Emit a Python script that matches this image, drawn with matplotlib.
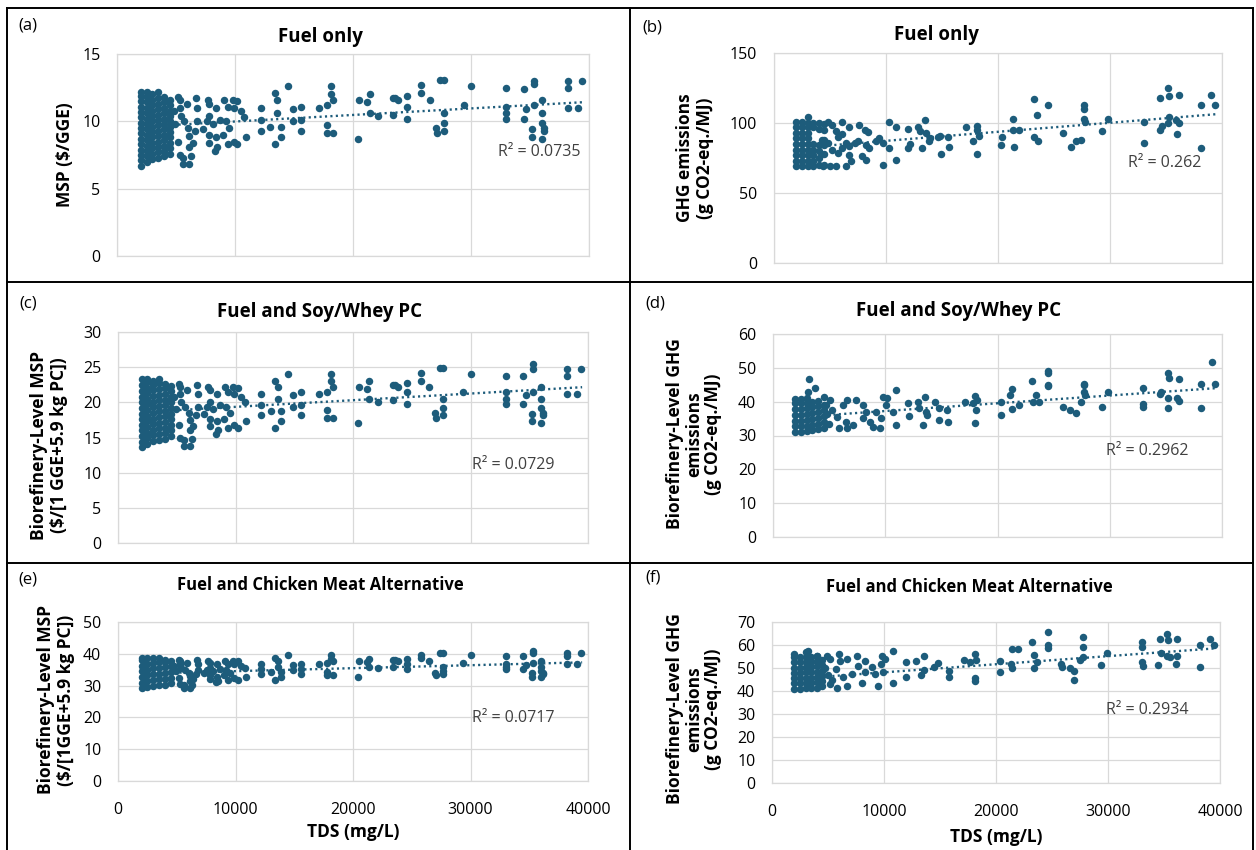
import matplotlib.pyplot as plt
from matplotlib.lines import Line2D

plt.rcParams["font.family"] = ["Open Sans", "DejaVu Sans"]

# ---- values (TDS in mg/L) ----
# dense block of samples at low TDS: one list of values per TDS column
cluster_tds = [2000, 2500, 3000, 3500, 4000, 4500]

a_cluster = [
    [6.7, 7.1, 7.5, 7.9, 8.3, 8.7, 9.1, 9.5, 9.9, 10.3, 10.7, 11.1, 11.5, 11.9, 12.2],
    [7.0, 7.4, 7.8, 8.2, 8.6, 9.0, 9.4, 9.8, 10.2, 10.6, 11.0, 11.4, 11.8, 12.2],
    [7.2, 7.6, 8.0, 8.4, 8.8, 9.2, 9.6, 10.0, 10.4, 10.8, 11.2, 11.6, 12.0],
    [7.3, 7.7, 8.1, 8.5, 8.9, 9.3, 9.7, 10.1, 10.5, 10.9, 11.3, 11.7, 12.2],
    [7.4, 7.8, 8.2, 8.6, 9.0, 9.4, 9.8, 10.2, 10.6, 11.0, 11.4, 11.8],
    [7.6, 8.0, 8.4, 8.8, 9.2, 9.6, 10.0, 10.4, 10.8, 11.2, 11.6],
]
c_cluster = [
    [13.6, 14.4, 15.2, 16.0, 16.8, 17.6, 18.4, 19.2, 20.0, 20.8, 21.6, 22.4, 23.3],
    [14.1, 14.9, 15.7, 16.5, 17.3, 18.1, 18.9, 19.7, 20.5, 21.3, 22.1, 22.9, 23.3],
    [14.5, 15.3, 16.1, 16.9, 17.7, 18.5, 19.3, 20.1, 20.9, 21.7, 22.5, 23.1],
    [14.7, 15.5, 16.3, 17.1, 17.9, 18.7, 19.5, 20.3, 21.1, 21.9, 22.7, 23.3],
    [14.8, 15.6, 16.4, 17.2, 18.0, 18.8, 19.6, 20.4, 21.2, 22.0, 22.6],
    [15.2, 16.0, 16.8, 17.6, 18.4, 19.2, 20.0, 20.8, 21.6, 22.3],
]
e_cluster = [
    [29.1, 30.9, 32.7, 34.5, 36.3, 38.1, 38.8],
    [29.6, 31.4, 33.2, 35.0, 36.8, 38.8],
    [30.0, 31.8, 33.6, 35.4, 37.2, 38.6],
    [30.2, 32.0, 33.8, 35.6, 37.4, 38.8],
    [30.3, 32.1, 33.9, 35.7, 37.5, 38.1],
    [30.7, 32.5, 34.3, 36.1, 37.8],
]
b_cluster = [
    [69, 73, 77, 81, 85, 89, 93, 97, 101],
    [69, 73, 77, 81, 85, 89, 93, 97, 101],
    [69, 73, 77, 81, 85, 89, 93, 97, 100, 104],
    [69, 73, 77, 81, 85, 97, 100],
    [70, 75, 80, 84, 96, 100],
    [70, 78, 84, 88, 95, 99],
]
d_cluster = [
    [31.0, 32.7, 34.4, 36.1, 37.8, 39.5, 40.8],
    [31.0, 32.7, 34.4, 36.1, 37.8, 39.5, 40.8],
    [31.2, 32.9, 34.6, 36.3, 38.0, 39.7, 41.0],
    [31.5, 33.2, 34.9, 36.6, 38.3, 40.0],
    [31.8, 33.5, 35.2, 36.9, 38.6, 40.3],
    [32.3, 34.0, 35.7, 37.4, 39.1],
]
f_cluster = [
    [41.0, 43.3, 45.6, 47.9, 50.2, 52.5, 54.8, 56.0],
    [41.0, 43.3, 45.6, 47.9, 50.2, 52.5, 54.8],
    [41.2, 43.5, 45.8, 48.1, 50.4, 52.7, 55.0, 57.0],
    [41.2, 43.5, 45.8, 48.1, 50.4, 52.7, 55.0],
    [41.5, 43.8, 46.1, 48.4, 50.7, 53.0, 55.3],
    [42.0, 44.3, 46.6, 48.9, 51.2, 53.5],
]

# remaining samples, left column (same samples in a, c, e)
msp_tds = [5300, 5300, 5400, 5700, 5900, 6000, 6100, 6100, 6300, 5600, 6100, 5600, 6700, 6800, 6800, 6600,
           6400, 5200, 5300, 4900, 4800, 5200,
           7700, 7800, 8400, 7800, 7600, 8100, 8700, 9100, 9400, 9800, 10200, 9900, 10500, 9500, 9000, 8400,
           7800, 8500, 8300, 9400, 9900, 10200, 10900, 7800, 7300, 9200, 10800,
           12200, 12200, 12200, 13000, 13400, 13600, 13600, 13400, 13900, 13900, 14500, 14900, 14900, 15600,
           15600, 15600, 17100, 17800, 17800, 17800, 18100, 18100, 18300, 18300, 20400, 20500, 21200, 21400,
           21400, 22100, 23400, 23400, 23600, 23800, 24600, 24600, 24600, 25800, 25800, 26500, 27000, 27100,
           27400, 27700, 27700, 27700, 27700, 29400, 30000, 33000, 33000, 33000, 33000, 34500, 34500, 34700,
           35300, 35300, 35300, 35200, 35200, 36000, 36000, 36000, 36200, 36200, 36000, 38200, 38200, 38200,
           39100, 39400]
a_msp = [11.6, 11.0, 10.4, 10.0, 11.3, 9.5, 8.9, 8.1, 7.4, 6.8, 6.8, 7.3, 11.7, 11.0, 10.0, 9.3,
         8.4, 8.5, 7.5, 9.8, 10.8, 11.8,
         11.6, 11.3, 11.0, 10.4, 10.0, 9.8, 10.1, 11.6, 11.1, 11.6, 11.5, 11.0, 10.8, 9.5, 9.0, 8.8,
         8.4, 8.1, 7.8, 8.3, 8.5, 8.3, 8.8, 9.0, 9.4, 10.0, 10.3,
         11.0, 10.1, 9.3, 9.6, 12.1, 11.6, 10.6, 8.3, 9.6, 8.8, 12.6, 10.9, 10.0, 11.1,
         10.1, 9.3, 11.0, 11.2, 9.7, 9.1, 12.6, 12.0, 11.6, 9.1, 8.7, 11.6, 11.4, 12.0,
         10.6, 10.4, 11.7, 10.5, 11.7, 11.6, 11.9, 11.1, 10.2, 12.7, 12.1, 11.6, 9.5, 9.1,
         13.1, 13.1, 10.6, 9.9, 9.3, 11.2, 12.6, 12.5, 11.1, 10.6, 10.2, 12.4, 10.2, 10.9,
         13.0, 12.8, 11.2, 9.4, 8.8, 11.6, 10.6, 9.9, 9.5, 9.3, 8.7, 13.0, 12.5, 11.0,
         11.0, 13.0]
c_msp = [22.2, 21.2, 20.1, 19.4, 21.7, 18.5, 17.5, 16.1, 14.8, 13.8, 13.8, 14.7, 22.4, 21.2, 19.4, 18.2,
         16.6, 16.8, 15.0, 19.1, 20.8, 22.6,
         22.2, 21.7, 21.2, 20.1, 19.4, 19.1, 19.6, 22.2, 21.4, 22.2, 22.1, 21.2, 20.8, 18.5, 17.7, 17.3,
         16.6, 16.1, 15.5, 16.4, 16.8, 16.4, 17.3, 17.7, 18.4, 19.4, 20.0,
         21.2, 19.6, 18.2, 18.7, 23.1, 22.2, 20.5, 16.4, 18.7, 17.3, 24.0, 21.0, 19.4, 21.4,
         19.6, 18.2, 21.2, 21.5, 18.9, 17.8, 24.0, 23.0, 22.2, 17.8, 17.1, 22.2, 21.9, 23.0,
         20.5, 20.1, 22.4, 20.3, 22.4, 22.2, 22.8, 21.4, 19.8, 24.2, 23.1, 22.2, 18.5, 17.8,
         24.9, 24.9, 20.5, 19.2, 18.2, 21.5, 24.0, 23.8, 21.4, 20.5, 19.8, 23.7, 19.8, 21.0,
         25.5, 24.8, 21.5, 18.4, 17.3, 22.2, 20.5, 19.2, 18.5, 18.2, 17.1, 24.7, 23.8, 21.2,
         21.2, 24.7]
e_msp = [37.7, 36.7, 35.6, 34.9, 37.2, 34.0, 33.0, 31.6, 30.3, 29.3, 29.3, 30.2, 37.9, 36.7, 34.9, 33.7,
         32.1, 32.3, 30.5, 34.6, 36.3, 38.1,
         37.7, 37.2, 36.7, 35.6, 34.9, 34.6, 35.1, 37.7, 36.9, 37.7, 37.6, 36.7, 36.3, 34.0, 33.2, 32.8,
         32.1, 31.6, 31.0, 31.9, 32.3, 31.9, 32.8, 33.2, 33.9, 34.9, 35.5,
         36.7, 35.1, 33.7, 34.2, 38.6, 37.7, 36.0, 31.9, 34.2, 32.8, 39.5, 36.5, 34.9, 36.9,
         35.1, 33.7, 36.7, 37.0, 34.4, 33.3, 39.5, 38.5, 37.7, 33.3, 32.6, 37.7, 37.4, 38.5,
         36.0, 35.6, 37.9, 35.8, 37.9, 37.7, 38.3, 36.9, 35.3, 39.7, 38.6, 37.7, 34.0, 33.3,
         40.4, 40.4, 36.0, 34.7, 33.7, 37.0, 39.5, 39.3, 36.9, 36.0, 35.3, 39.2, 35.3, 36.5,
         41.0, 40.3, 37.0, 33.9, 32.8, 37.7, 36.0, 34.7, 34.0, 33.7, 32.6, 40.2, 39.3, 36.7,
         36.7, 40.2]

# remaining samples, right column
b_tds = [5200, 6100, 6700, 7600, 8100, 8400, 4300, 4800, 5200, 5700, 6100, 6400, 6700, 6900, 8200, 8500,
         7900, 8200, 9100, 9400, 9700, 10300, 9700, 10900, 10300, 10900, 6100, 5700, 7200, 7500, 6700,
         4400, 5000, 5500, 6400, 4800, 5500,
         12000, 12000, 12100, 12900, 13000, 13200, 13500, 13600, 13800, 13900, 14600, 14900, 14800, 15500,
         15600, 17100, 17800, 18100, 18100, 18300, 18100, 20300, 20400, 21300, 21300, 21400, 21900, 23200,
         23500, 23200, 23600, 24500, 25800, 26500, 27000, 27400, 27700, 27700, 27700, 27800, 29300, 29800,
         33000, 33000, 34500, 34500, 34600, 35200, 35300, 35300, 35200, 35900, 36200, 36200, 36000, 38100,
         38100, 39000, 39400]
b_ghg = [98.7, 101, 97.4, 98.7, 94.8, 93.6, 88.1, 85.7, 80.9, 78.6, 82.1, 85.7, 77.4, 72.6, 84.5, 82.1,
         76.2, 73.8, 86.9, 89.3, 85.7, 82.1, 70.2, 73.8, 101, 97.4, 92.1, 89.8, 85.7, 86.9, 83.3,
         69.6, 69.6, 69.6, 69.6, 101, 94,
         96, 82, 85, 97, 94, 82, 102, 93, 87, 89, 90, 78, 91, 90,
         83, 97, 87, 98, 95, 91, 78, 84, 90, 95, 103, 83, 95, 117,
         106, 90, 87, 113, 93, 83, 87, 88, 113, 110, 103, 101, 94, 103,
         101, 86, 118, 95, 98, 125, 119, 104, 100, 102, 120, 100, 92, 113,
         82, 120, 113]

d_tds = [3200, 3100, 3700, 4500, 5100, 5300, 5700, 6200, 6500, 5900, 6600, 7100, 6600, 7400, 8000, 8300,
         8000, 8600, 8900, 9500, 9600, 9200, 9800, 10200, 10100, 10700, 11000, 11000, 4800, 5000, 4700,
         12000, 12100, 12900, 13000, 13400, 13500, 13600, 13700, 14400, 14800, 14800, 15500, 15600, 17100,
         17800, 18000, 18100, 18200, 18000, 20300, 20300, 21100, 21300, 21300, 21900, 23100, 23400, 23200,
         23700, 24500, 24500, 24500, 24500, 25800, 26500, 27000, 27400, 27700, 27700, 27700, 27800, 29300,
         29800, 33000, 33000, 33000, 34500, 34600, 35200, 35300, 35200, 35200, 36200, 36000, 36200, 38100,
         38100, 39100, 39400]
d_ghg = [46.6, 42.8, 44.0, 41.5, 40.5, 37.5, 35.5, 39.0, 34.0, 32.1, 32.1, 33.1, 40.5, 40.5, 39.0, 37.0,
         35.1, 34.0, 32.6, 32.1, 35.1, 37.0, 41.5, 41.0, 39.0, 37.0, 33.0, 43.5, 36.5, 33.5, 39.0,
         39.5, 35.8, 40, 38, 33, 41.3, 37, 36, 40, 38.2, 34.6, 37.5, 34, 40,
         39.5, 41.8, 37.5, 40.5, 33.8, 36, 40, 42, 43.8, 37.8, 39, 46, 42, 40,
         40, 49.2, 48.6, 45, 44.5, 38.5, 37.5, 36.6, 39.8, 45.3, 44.8, 42.8, 42, 38.5,
         43, 44, 39.2, 38.5, 42.3, 42.8, 48.4, 47, 41, 38, 46.7, 41, 40.2, 45.3,
         38, 51.7, 45.2]

f_tds = [3200, 4000, 4900, 5200, 6000, 6100, 6700, 7600, 7700, 8300, 5700, 6300, 6700, 5800, 5400, 7100,
         8000, 8300, 8900, 9200, 9700, 9800, 10100, 10800, 9500, 10800, 9900, 4700, 5000, 5200,
         12000, 12000, 12900, 13300, 13600, 13600, 14500, 14800, 15800, 15800, 17100, 17700, 18100, 18200,
         18100, 18100, 20400, 20400, 21300, 21400, 21400, 22000, 23200, 23400, 23400, 23700, 24600, 24600,
         24600, 25800, 25900, 26600, 27000, 27000, 27500, 27800, 27800, 27800, 29400, 29900, 33000, 33000,
         33000, 33100, 34500, 34600, 34700, 35300, 35400, 35300, 35500, 36200, 36200, 36100, 38200, 38200,
         39100, 39500]
f_ghg = [57.2, 55.2, 55.2, 53.8, 55.9, 53.1, 53.8, 55.2, 51.0, 53.1, 49.6, 46.2, 42.1, 41.4, 44.8, 47.6,
         43.4, 48.3, 50.3, 47.6, 51.8, 55.2, 53.8, 57.2, 42.1, 43.4, 48.3, 50.0, 47.0, 43.0,
         52.7, 46.2, 53.0, 46.9, 55.4, 49.1, 50.5, 52.2, 48.8, 46.2, 53.4, 52.7, 56.3, 53.4,
         45.5, 44.3, 53.1, 48.1, 51.9, 58.4, 50.1, 58.1, 61.3, 55.8, 49.8, 52.7, 65.7, 59.9,
         58.7, 51.9, 50.5, 49.8, 44.7, 48.6, 53.4, 63.5, 59.2, 54.8, 51.5, 56.7, 61.3, 59.2,
         52.4, 50.9, 51.5, 62.8, 56.7, 64.9, 62.0, 55.3, 54.8, 62.5, 55.3, 51.9, 59.9, 50.5,
         62.8, 60.2]

# linear trendlines (value at the first and last sample)
trend_tds = [2000, 39500]
a_trend = [9.6, 11.42]
b_trend = [82.1, 106.3]
c_trend = [18.6, 22.15]
d_trend = [35.4, 44.0]
e_trend = [33.8, 37.3]
f_trend = [45.3, 58.5]

r2_labels = ["R² = 0.0735", "R² = 0.262", "R² = 0.0729", "R² = 0.2962", "R² = 0.0717", "R² = 0.2934"]
titles = ["Fuel only", "Fuel only", "Fuel and Soy/Whey PC", "Fuel and Soy/Whey PC",
          "Fuel and Chicken Meat Alternative", "Fuel and Chicken Meat Alternative"]
ylabels = ["MSP ($/GGE)",
           "GHG emissions\n(g CO2-eq./MJ)",
           "Biorefinery-Level MSP\n($/[1 GGE+5.9 kg PC])",
           "Biorefinery-Level GHG\nemissions\n(g CO2-eq./MJ)",
           "Biorefinery-Level MSP\n($/[1GGE+5.9 kg PC])",
           "Biorefinery-Level GHG\nemissions\n(g CO2-eq./MJ)"]
panel_tags = ["(a)", "(b)", "(c)", "(d)", "(e)", "(f)"]
y_max = [15, 150, 30, 60, 50, 70]
y_step = [5, 50, 5, 10, 10, 10]

series = [
    (a_cluster, msp_tds, a_msp, a_trend),
    (b_cluster, b_tds, b_ghg, b_trend),
    (c_cluster, msp_tds, c_msp, c_trend),
    (d_cluster, d_tds, d_ghg, d_trend),
    (e_cluster, msp_tds, e_msp, e_trend),
    (f_cluster, f_tds, f_ghg, f_trend),
]

# layout in pixels of the 1256x850 picture
W, H = 1256, 850
ax_px = [(117, 589, 54, 256), (774, 1222, 53, 263), (118, 588, 332, 543),
         (773, 1222, 334, 537), (118, 588, 622, 781), (772, 1220, 622, 783)]
title_px = [(320, 37), (936, 35), (320, 312), (959, 311), (320, 585), (969, 587)]
title_size = [13.5, 13.5, 13.5, 13.5, 12, 12]
tag_px = [(28, 25), (652, 27), (28, 303), (655, 304), (28, 580), (653, 578)]
ylab_px = [(65, 155), (695, 158), (49, 445), (694, 434), (56, 700), (694, 709)]
r2_frac = [(0.894, 0.515), (0.871, 0.476), (0.841, 0.37), (0.833, 0.423), (0.841, 0.395), (0.837, 0.454)]

DOT = "#1d5c7b"
GRID = "#d9d9d9"

fig = plt.figure(figsize=(W / 100, H / 100), dpi=100)


def fx(x):
    return x / W


def fy(y):
    return 1 - y / H


for i in range(6):
    l, r, t, b = ax_px[i]
    ax = fig.add_axes([fx(l), fy(b), (r - l) / W, (b - t) / H])
    cluster, tds, vals, trend = series[i]

    cx, cy = [], []
    for col, col_vals in zip(cluster_tds, cluster):
        cx += [col] * len(col_vals)
        cy += col_vals
    ax.plot(trend_tds, trend, color=DOT, lw=1.7, ls=(0, (0.9, 1.4)), zorder=2)
    ax.scatter(cx + tds, cy + vals, s=29, color=DOT, linewidths=0, zorder=3)

    ax.set_xlim(0, 40000)
    ax.set_ylim(0, y_max[i])
    ax.set_xticks(range(0, 40001, 10000))
    ax.set_yticks(range(0, y_max[i] + 1, y_step[i]))
    ax.grid(True, color=GRID, lw=0.9)
    ax.set_axisbelow(True)
    for sp in ax.spines.values():
        sp.set_color(GRID)
        sp.set_linewidth(0.9)
    ax.tick_params(length=0, labelsize=11.5, pad=12)
    if i < 4:
        ax.tick_params(axis="x", labelbottom=False)
    else:
        ax.tick_params(axis="x", pad=15)

    ax.text(*r2_frac[i], r2_labels[i], transform=ax.transAxes, ha="center", va="center",
            fontsize=11.5, color="#404040")

    fig.text(fx(title_px[i][0]), fy(title_px[i][1]), titles[i], ha="center", va="center",
             fontsize=title_size[i], fontweight="bold")
    fig.text(fx(tag_px[i][0]), fy(tag_px[i][1]), panel_tags[i], ha="center", va="center", fontsize=12)
    fig.text(fx(ylab_px[i][0]), fy(ylab_px[i][1]), ylabels[i], rotation=90, ha="center", va="center",
             fontsize=12.5, fontweight="bold", multialignment="center", linespacing=1.1)

# x axis titles of the bottom row
fig.text(fx(353), fy(832), "TDS (mg/L)", ha="center", va="center", fontsize=12.5, fontweight="bold")
fig.text(fx(996), fy(837), "TDS (mg/L)", ha="center", va="center", fontsize=12.5, fontweight="bold")

# panel frames
frame = dict(color="black", lw=1.4, transform=fig.transFigure)
for x0, y0, x1, y1 in [(7, 8, 1253, 8), (7, 8, 7, 850), (1253, 8, 1253, 850), (630, 8, 630, 850),
                       (7, 282, 1253, 282), (7, 563, 1253, 563)]:
    fig.add_artist(Line2D([fx(x0), fx(x1)], [fy(y0), fy(y1)], **frame))

fig.savefig("out.png", dpi=100)
